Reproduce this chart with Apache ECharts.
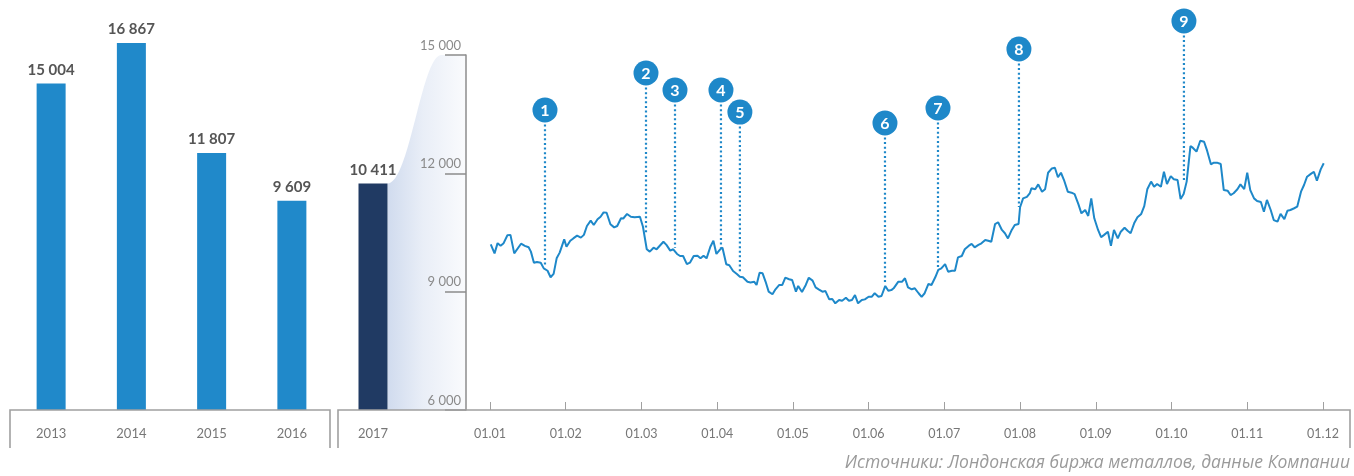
<!DOCTYPE html>
<html>
<head>
<meta charset="utf-8">
<script src="https://cdn.jsdelivr.net/npm/echarts@6/dist/echarts.min.js"></script>
<style>
  html, body { margin: 0; padding: 0; background: #fff; }
  #chart { width: 1354px; height: 476px; }
</style>
</head>
<body>
<div id="chart"></div>
<script>
// yearly averages, $/t
const years = ['2013', '2014', '2015', '2016'];
const yearAvg = [15004, 16867, 11807, 9609];
const currentYear = ['2017'];
const currentAvg = [10411];

// daily price in 2017, x = months since 01.01
const monthLabels = ['01.01', '01.02', '01.03', '01.04', '01.05', '01.06', '01.07', '01.08', '01.09', '01.10', '01.11', '01.12'];
const dayPos = [
  0.01, 0.06, 0.10, 0.14, 0.18, 0.23, 0.27, 0.32, 0.41, 0.46, 0.51, 0.54, 0.58, 0.62, 0.67, 0.71, 0.76, 0.80, 0.84, 0.88,
  0.92, 0.98, 1.01, 1.06, 1.10, 1.15, 1.20, 1.24, 1.28, 1.33, 1.37, 1.42, 1.46, 1.50, 1.54, 1.59, 1.64, 1.68, 1.73, 1.76,
  1.81, 1.86, 1.91, 1.98, 2.02, 2.07, 2.11, 2.16, 2.20, 2.29, 2.33, 2.38, 2.42, 2.47, 2.51, 2.55, 2.60, 2.64, 2.69, 2.74,
  2.78, 2.82, 2.86, 2.91, 2.95, 2.99, 3.04, 3.07, 3.12, 3.16, 3.21, 3.26, 3.30, 3.34, 3.40, 3.44, 3.49, 3.52, 3.56, 3.60,
  3.64, 3.68, 3.73, 3.77, 3.82, 3.86, 3.90, 3.95, 3.99, 4.04, 4.07, 4.12, 4.17, 4.21, 4.26, 4.30, 4.34, 4.39, 4.43, 4.48,
  4.52, 4.56, 4.61, 4.65, 4.70, 4.74, 4.78, 4.82, 4.86, 4.91, 4.95, 5.00, 5.04, 5.08, 5.13, 5.17, 5.22, 5.26, 5.30, 5.33,
  5.39, 5.44, 5.48, 5.52, 5.57, 5.61, 5.66, 5.70, 5.74, 5.79, 5.83, 5.88, 5.92, 5.96, 6.01, 6.05, 6.10, 6.14, 6.18, 6.23,
  6.27, 6.32, 6.36, 6.40, 6.45, 6.49, 6.54, 6.58, 6.62, 6.67, 6.71, 6.76, 6.80, 6.84, 6.89, 6.93, 6.98, 7.00, 7.04, 7.09,
  7.13, 7.15, 7.20, 7.24, 7.29, 7.33, 7.37, 7.42, 7.46, 7.50, 7.54, 7.58, 7.63, 7.68, 7.72, 7.77, 7.81, 7.86, 7.90, 7.94,
  7.98, 8.03, 8.07, 8.11, 8.16, 8.20, 8.24, 8.29, 8.33, 8.38, 8.42, 8.46, 8.51, 8.55, 8.60, 8.64, 8.68, 8.73, 8.77, 8.81,
  8.86, 8.90, 8.94, 8.99, 9.03, 9.08, 9.12, 9.16, 9.20, 9.25, 9.28, 9.33, 9.38, 9.43, 9.47, 9.52, 9.56, 9.60, 9.65, 9.69,
  9.74, 9.78, 9.82, 9.87, 9.91, 9.96, 10.00, 10.04, 10.09, 10.13, 10.18, 10.22, 10.26, 10.31, 10.35, 10.40, 10.44, 10.49, 10.53, 10.57,
  10.62, 10.66, 10.71, 10.75, 10.79, 10.84, 10.88, 10.92, 10.97, 11.01
];
const dayPrice = [
  10200, 9970, 10230, 10165, 10230, 10430, 10440, 9970, 10215, 10160, 10125, 10015, 9735, 9750, 9735, 9590, 9530, 9365, 9450, 9845,
  9990, 10325, 10140, 10290, 10350, 10420, 10370, 10440, 10665, 10800, 10690, 10835, 10900, 11010, 11000, 10710, 10630, 10665, 10860, 10855,
  10970, 10900, 10885, 10900, 10645, 10075, 10015, 10115, 10075, 10265, 10185, 10040, 10075, 9955, 9905, 9905, 9700, 9735, 9905, 9910,
  9845, 9910, 9845, 10140, 10290, 9955, 10075, 10115, 9695, 9670, 9525, 9450, 9380, 9365, 9250, 9235, 9250, 9170, 9480, 9465,
  9250, 9000, 8935, 9060, 9170, 9170, 9355, 9315, 9295, 9000, 9145, 8990, 9170, 9355, 9280, 9110, 9060, 9000, 9015, 8805,
  8815, 8705, 8790, 8770, 8845, 8770, 8790, 8915, 8705, 8790, 8805, 8870, 8870, 8960, 8870, 8890, 9145, 9025, 9040, 9085,
  9250, 9250, 9340, 9110, 9060, 9085, 8960, 8870, 8960, 9195, 9170, 9365, 9550, 9590, 9700, 9505, 9530, 9530, 9870, 9905,
  10075, 10160, 10210, 10125, 10185, 10225, 10310, 10290, 10265, 10715, 10760, 10565, 10480, 10350, 10565, 10690, 10715, 11140, 11365, 11405,
  11500, 11620, 11595, 11720, 11535, 11595, 12015, 12125, 12140, 11900, 12015, 11830, 11535, 11510, 11475, 11220, 10985, 11070, 10920, 11365,
  10860, 10565, 10380, 10440, 10520, 10160, 10565, 10350, 10520, 10620, 10545, 10480, 10750, 10885, 10970, 11170, 11595, 11790, 11660, 11730,
  11660, 12040, 11730, 11930, 11850, 11830, 11350, 11475, 11790, 12690, 12650, 12550, 12825, 12800, 12575, 12230, 12270, 12270, 12235, 11575,
  11560, 11450, 11495, 11595, 11720, 11600, 12015, 11575, 11365, 11300, 11275, 11025, 11325, 11070, 10815, 10775, 10970, 10840, 11050, 11070,
  11115, 11155, 11535, 11705, 11915, 11985, 12040, 11815, 12100, 12255
];
const priceTicks = [6000, 9000, 12000, 15000];

// numbered events: position, price where the pin touches the line, badge level
const eventIds = [1, 2, 3, 4, 5, 6, 7, 8, 9];
const eventPos = [0.726, 2.06, 2.443, 3.05, 3.30, 5.216, 5.916, 6.985, 9.164];
const eventPrice = [9625, 10487, 10107, 10107, 9498, 9245, 9600, 11146, 11830];
const eventBadge = [13605, 14543, 14112, 14112, 13554, 13276, 13656, 15152, 15862];

const FONT = 'Lato, "Open Sans", sans-serif';
const BAR_BLUE = '#2089ca';
const NAVY = '#203a63';
const LINE_BLUE = '#1e88c9';
const AXIS_GRAY = '#a0a0a0';
const BAR_W = 29;
const X_MIN = -0.317;

function spaced(v) {
  return String(v).replace(/\B(?=(\d{3})+(?!\d))/g, ' ');
}

const chart = echarts.init(document.getElementById('chart'));

const yearLabel = {
  color: '#777', fontFamily: FONT, fontSize: 13, margin: 17
};
const valueLabel = {
  show: true, position: 'top', distance: 6,
  color: '#555', fontFamily: FONT, fontWeight: 'bold', fontSize: 15,
  formatter: p => spaced(p.value)
};

chart.setOption({
  animation: false,
  grid: [
    { left: 11, width: 321, top: 40, bottom: 66 },
    { left: 338, width: 70, top: 40, bottom: 66 },
    { left: 466, right: 4, top: 55, bottom: 66 }
  ],
  xAxis: [
    { gridIndex: 0, type: 'category', data: years, axisLine: { show: false }, axisTick: { show: false }, axisLabel: yearLabel },
    { gridIndex: 1, type: 'category', data: currentYear, axisLine: { show: false }, axisTick: { show: false }, axisLabel: yearLabel },
    {
      gridIndex: 2, type: 'value', min: X_MIN, max: 11.357,
      axisLine: { show: false },
      splitLine: { show: false },
      axisTick: {
        show: true, inside: true, length: 8,
        customValues: monthLabels.map((m, i) => i),
        lineStyle: { color: AXIS_GRAY, width: 1 }
      },
      axisLabel: {
        customValues: monthLabels.map((m, i) => i),
        formatter: v => monthLabels[Math.round(v)],
        color: '#777', fontFamily: FONT, fontSize: 12.5, margin: 17
      }
    }
  ],
  yAxis: [
    { gridIndex: 0, type: 'value', min: 0, max: 17000, show: false },
    { gridIndex: 1, type: 'value', min: 0, max: 17000, show: false },
    {
      gridIndex: 2, type: 'value', min: priceTicks[0], max: priceTicks[priceTicks.length - 1], interval: 3000,
      splitLine: { show: false },
      axisLine: { show: true, onZero: false, lineStyle: { color: '#8c8c8c', width: 1.5 } },
      axisTick: { show: true, length: 21, lineStyle: { color: '#8c8c8c', width: 1.5 } },
      axisLabel: {
        formatter: v => spaced(v), color: '#8a8a8a', fontFamily: FONT, fontSize: 13,
        margin: 5, verticalAlign: 'bottom', padding: [0, 0, 3, 0]
      }
    }
  ],
  series: [
    {
      type: 'bar', xAxisIndex: 0, yAxisIndex: 0, data: yearAvg, barWidth: BAR_W,
      itemStyle: { color: BAR_BLUE }, label: valueLabel
    },
    {
      type: 'bar', xAxisIndex: 1, yAxisIndex: 1, data: currentAvg, barWidth: BAR_W,
      itemStyle: { color: NAVY }, label: valueLabel
    },
    {
      type: 'line', xAxisIndex: 2, yAxisIndex: 2, z: 3,
      data: dayPos.map((x, i) => [x, dayPrice[i]]),
      showSymbol: false,
      lineStyle: { color: LINE_BLUE, width: 2 }
    },
    {
      type: 'custom', xAxisIndex: 2, yAxisIndex: 2, z: 4, clip: false,
      data: eventIds.map((id, i) => [eventPos[i], eventPrice[i], eventBadge[i], id]),
      encode: { x: 0, y: 1 },
      renderItem: function (params, api) {
        const end = api.coord([api.value(0), api.value(1)]);
        const top = api.coord([api.value(0), api.value(2)]);
        const r = 12.5;
        return {
          type: 'group',
          children: [
            {
              type: 'line',
              shape: { x1: top[0], y1: top[1] + r + 2, x2: end[0], y2: end[1] },
              style: { stroke: LINE_BLUE, lineWidth: 2.2, lineDash: [2, 2.6] }
            },
            { type: 'circle', shape: { cx: top[0], cy: top[1], r: r }, style: { fill: LINE_BLUE } },
            {
              type: 'text', x: top[0], y: top[1] + 1,
              style: {
                text: String(api.value(3)), fill: '#fff', font: 'bold 16px ' + FONT,
                align: 'center', verticalAlign: 'middle'
              }
            }
          ]
        };
      }
    }
  ]
});

// decorative pieces: the zoom-out fan from the 2017 bar to the price axis, the axis boxes, the source note
function drawDecor() {
  const barTop = chart.convertToPixel({ xAxisIndex: 1, yAxisIndex: 1 }, [currentYear[0], currentAvg[0]]);
  const x0 = barTop[0] + BAR_W / 2;
  const y0 = barTop[1];
  const axisX = chart.convertToPixel({ xAxisIndex: 2 }, X_MIN);
  const yTop = chart.convertToPixel({ yAxisIndex: 2 }, priceTicks[priceTicks.length - 1]);
  const yBase = chart.convertToPixel({ yAxisIndex: 2 }, priceTicks[0]);

  const c1 = [x0 + 22, y0], c2 = [x0 + 34, yTop], p3 = [x0 + 54, yTop];
  const pts = [];
  for (let i = 0; i <= 40; i++) {
    const t = i / 40, u = 1 - t;
    pts.push([
      u * u * u * x0 + 3 * u * u * t * c1[0] + 3 * u * t * t * c2[0] + t * t * t * p3[0],
      u * u * u * y0 + 3 * u * u * t * c1[1] + 3 * u * t * t * c2[1] + t * t * t * p3[1]
    ]);
  }
  pts.push([axisX, yTop], [axisX, yBase], [x0, yBase]);

  const boxStyle = { stroke: AXIS_GRAY, lineWidth: 1.6, fill: null };

  chart.setOption({
    graphic: [
      {
        type: 'polygon', z: -1, silent: true,
        shape: { points: pts },
        style: {
          fill: {
            type: 'linear', x: 0, y: 0, x2: 1, y2: 0,
            colorStops: [
              { offset: 0, color: '#d0dbee' },
              { offset: 0.45, color: '#e9eef7' },
              { offset: 1, color: '#fafbfd' }
            ]
          }
        }
      },
      {
        type: 'polyline', silent: true, z: 5,
        shape: { points: [[10, 448], [10, yBase], [330, yBase], [330, 448]] },
        style: boxStyle
      },
      {
        type: 'polyline', silent: true, z: 5,
        shape: { points: [[338, 448], [338, yBase], [1350, yBase], [1350, 448]] },
        style: boxStyle
      },
      {
        type: 'text', right: 4, top: 454, silent: true,
        style: {
          text: 'Источники: Лондонская биржа металлов, данные Компании',
          fill: '#9a9a9a', font: 'italic 17.5px "Open Sans", sans-serif'
        }
      }
    ]
  });
}
drawDecor();

window.addEventListener('resize', () => chart.resize());
</script>
</body>
</html>
